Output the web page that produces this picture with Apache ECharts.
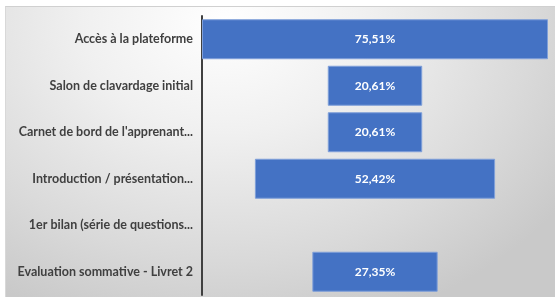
<!DOCTYPE html>
<html><head><meta charset="utf-8">
<script src="https://cdn.jsdelivr.net/npm/echarts@6/dist/echarts.min.js"></script>
<style>
html,body{margin:0;padding:0;background:#fff;}
#frame{position:absolute;left:5px;top:6px;width:550px;height:291px;
background:radial-gradient(ellipse 75% 110% at 40% 5%, #ffffff 0%, #f0f0f0 35%, #d9d9d9 75%, #c9c9c9 100%);
border-top:1px solid #d0d0d0;border-left:1px solid #d8d8d8;box-sizing:border-box;}
#c{position:absolute;left:0;top:0;width:555px;height:297px;}
</style></head>
<body><div id="frame"></div><div id="c"></div>
<script>
var categories = ["Accès à la plateforme","Salon de clavardage initial","Carnet de bord de l'apprenant...","Introduction / présentation...","1er bilan (série de questions...","Evaluation sommative - Livret 2"];
var values = [75.51, 20.61, 20.61, 52.42, 0, 27.35];
var maxVal = Math.max.apply(null, values);
var offsets = values.map(function(v){ return (maxVal - v) / 2; });
var barData = values.map(function(v){
  return v > 0 ? {value: v} : {value: v, itemStyle: {borderWidth: 0, color: 'transparent'}};
});
var chart = echarts.init(document.getElementById('c'));
chart.setOption({
  backgroundColor: 'transparent',
  animation: false,
  grid: {left: 202, right: 7, top: 16, bottom: 2},
  xAxis: {type: 'value', min: 0, max: maxVal, show: false},
  yAxis: {
    type: 'category', data: categories, inverse: true,
    axisLine: {show: true, lineStyle: {color: '#404040', width: 2}},
    axisTick: {show: false},
    axisLabel: {color: '#404040', fontFamily: 'Lato', fontWeight: 'bold', fontSize: 12.5, margin: 9}
  },
  series: [
    {type: 'bar', stack: 's', data: offsets, itemStyle: {color: 'transparent'}, barWidth: '86%', silent: true},
    {type: 'bar', stack: 's', data: barData, barWidth: '86%',
     itemStyle: {color: '#4472C4', borderColor: '#7f9fd9', borderWidth: 1},
     label: {show: true, position: 'inside', color: '#ffffff', fontFamily: 'Lato', fontWeight: 'bold', fontSize: 12,
       formatter: function(p){ return p.value > 0 ? p.value.toFixed(2).replace('.', ',') + '%' : ''; }}}
  ]
});
</script></body></html>
